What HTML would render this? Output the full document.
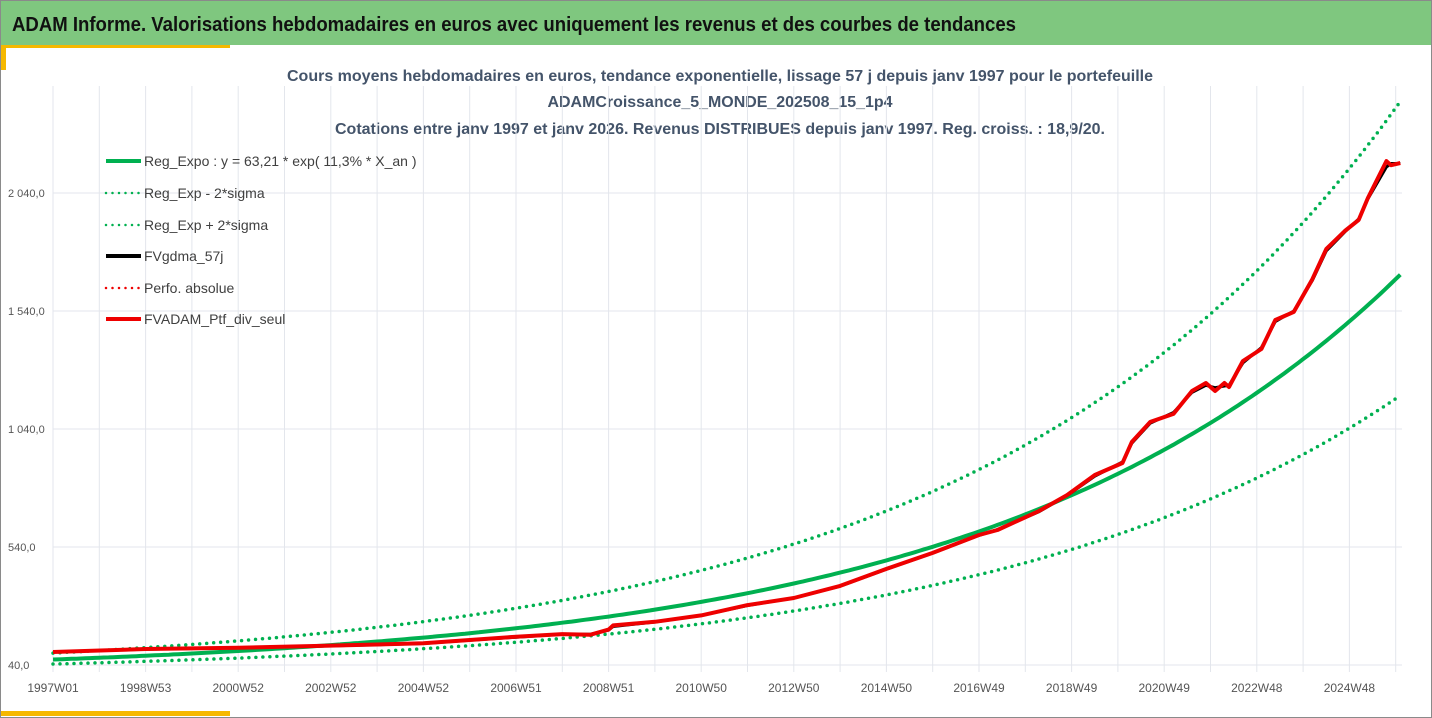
<!DOCTYPE html>
<html><head><meta charset="utf-8"><style>
html,body{margin:0;padding:0;background:#fff;}
svg{display:block;font-family:"Liberation Sans",sans-serif;}
</style></head><body>
<svg id="chart" width="1432" height="718" viewBox="0 0 1432 718">
<rect x="0" y="0" width="1432" height="718" fill="#fff"/>
<rect x="0.5" y="0.5" width="1431" height="717" fill="none" stroke="#8a8a8a"/>
<rect x="1" y="1" width="1430" height="44" fill="#7fc77f"/>
<text x="12" y="31" font-size="20" font-weight="bold" fill="#111" textLength="1004" lengthAdjust="spacingAndGlyphs">ADAM Informe. Valorisations hebdomadaires en euros avec uniquement les revenus et des courbes de tendances</text>
<rect x="1" y="45" width="229" height="3" fill="#f5b800"/>
<rect x="1" y="45" width="5" height="25" fill="#f5b800"/>
<rect x="1" y="711" width="229" height="5" fill="#f5b800"/>
<g fill="#44546a" font-weight="bold" font-size="16" text-anchor="middle">
<text x="720" y="81" textLength="866" lengthAdjust="spacingAndGlyphs">Cours moyens hebdomadaires  en euros, tendance exponentielle, lissage 57 j depuis janv 1997 pour le portefeuille</text>
<text x="720" y="107" textLength="345" lengthAdjust="spacingAndGlyphs">ADAMCroissance_5_MONDE_202508_15_1p4</text>
<text x="720" y="134" textLength="770" lengthAdjust="spacingAndGlyphs">Cotations entre janv 1997 et janv 2026. Revenus DISTRIBUES depuis janv 1997. Reg. croiss. : 18,9/20.</text>
</g>
<g id="grid"></g>
<g id="axes"></g>
<g id="series"></g>
<g id="legend"></g>
</svg>
<script>
// ---- data ----
const yTicks = [40, 540, 1040, 1540, 2040];
const yTickLabels = ["40,0", "540,0", "1 040,0", "1 540,0", "2 040,0"];
const xTickYears = [1997, 1999, 2001, 2003, 2005, 2007, 2009, 2011, 2013, 2015, 2017, 2019, 2021, 2023, 2025];
const xTickLabels = ["1997W01","1998W53","2000W52","2002W52","2004W52","2006W51","2008W51","2010W50","2012W50","2014W50","2016W49","2018W49","2020W49","2022W48","2024W48"];
const regA = 63.21;
const regRate = 0.113;
const regSigma2 = 0.36;
const regYears = [1997,1998,1999,2000,2001,2002,2003,2004,2005,2006,2007,2008,2009,2010,2011,2012,2013,2014,2015,2016,2017,2018,2019,2020,2021,2022,2023,2024,2025,2026.1];
const ptfYears = [1997,1999,2001,2003,2005,2006,2007,2008,2008.6,2009,2009.1,2010,2011,2012,2013,2014,2015,2016,2017,2017.4,2018.3,2018.9,2019.5,2020.1,2020.3,2020.7,2021.2,2021.6,2021.9,2022.1,2022.3,2022.4,2022.7,2023.1,2023.4,2023.8,2024.2,2024.5,2024.9,2025.2,2025.4,2025.8,2025.9,2026.1];
const ptfValues = [95,108,113,122,132,146,160,171,168,190,208,223,250,294,324,375,447,515,591,612,693,760,845,896,985,1070,1104,1201,1235,1201,1235,1218,1328,1379,1502,1536,1675,1803,1879,1926,2019,2175,2158,2167];
const smoothValues = [95,107,113,121,131,145,158,170,170,188,203,222,250,292,324,374,446,514,589,614,690,758,840,900,980,1065,1110,1195,1225,1215,1222,1225,1320,1385,1495,1540,1670,1795,1875,1930,2015,2150,2165,2165];

// ---- axes ----
const X0 = 53, PX_PER_YEAR = 46.3, YBASE = 665, PX_PER_UNIT = 118 / 500;
const xs = yr => X0 + (yr - 1997) * PX_PER_YEAR;
const ys = v => YBASE - (v - 40) * PX_PER_UNIT;
const NS = "http://www.w3.org/2000/svg";
function mk(tag, attrs, parent){const e=document.createElementNS(NS,tag);for(const k in attrs)e.setAttribute(k,attrs[k]);parent.appendChild(e);return e;}
const grid=document.getElementById('grid'), axes=document.getElementById('axes'), series=document.getElementById('series'), legend=document.getElementById('legend');

for(let y=1997;y<=2026;y++){
  const l=mk('line',{x1:xs(y),x2:xs(y),y1:86,y2:672,stroke:'#e3e6ec','stroke-width':1},grid);
  
  
}
yTicks.forEach((v,i)=>{
  const l=mk('line',{x1:53,x2:1402,y1:ys(v),y2:ys(v),stroke:'#e3e6ec','stroke-width':1},grid);
  
  
  const t=mk('text',{x:8,y:ys(v)+4,'font-size':11,fill:'#555'},axes);
  t.textContent=yTickLabels[i];
  
  
});
xTickYears.forEach((yr,i)=>{
  const t=mk('text',{x:xs(yr),y:692,'font-size':12,fill:'#555','text-anchor':'middle'},axes);
  t.textContent=xTickLabels[i];
  
  
});

// ---- series ----
function pathFrom(xv, yv){return xv.map((x,i)=>(i?'L':'M')+xs(x).toFixed(1)+','+ys(yv[i]).toFixed(1)).join(' ');}
function regPath(shift){
  const pts=[];
  for(let i=0;i<regYears.length-1;i++){
    for(let k=0;k<10;k++){const yr=regYears[i]+(regYears[i+1]-regYears[i])*k/10;pts.push(yr);}
  }
  pts.push(regYears[regYears.length-1]);
  return pts.map((yr,i)=>(i?'L':'M')+xs(yr).toFixed(1)+','+ys(regA*Math.exp(regRate*(yr-1997)+shift)).toFixed(1)).join(' ');
}
let p;
p=mk('path',{d:regPath(regSigma2),fill:'none',stroke:'#00b050','stroke-width':3.5,'stroke-dasharray':'0 7','stroke-linecap':'round'},series);


p=mk('path',{d:regPath(-regSigma2),fill:'none',stroke:'#00b050','stroke-width':3.5,'stroke-dasharray':'0 7','stroke-linecap':'round'},series);


p=mk('path',{d:regPath(0),fill:'none',stroke:'#00b050','stroke-width':4},series);


p=mk('path',{d:pathFrom(ptfYears,smoothValues),fill:'none',stroke:'#000','stroke-width':3,'stroke-linejoin':'round'},series);


p=mk('path',{d:pathFrom(ptfYears,ptfValues),fill:'none',stroke:'#ee0000','stroke-width':4,'stroke-linejoin':'round'},series);



// ---- legend ----
const legItems=[
 ['Reg_Expo : y = 63,21 * exp( 11,3% *  X_an )','#00b050',false,'legend-reg-expo'],
 ['Reg_Exp - 2*sigma','#00b050',true,'legend-reg-minus'],
 ['Reg_Exp + 2*sigma','#00b050',true,'legend-reg-plus'],
 ['FVgdma_57j','#000',false,'legend-fvgdma'],
 ['Perfo. absolue','#ee0000',true,'legend-perfo'],
 ['FVADAM_Ptf_div_seul','#ee0000',false,'legend-fvadam']
];
const legY=[161,193,225,256,288,319];
legItems.forEach((it,i)=>{
  const g=mk('g',{},legend);
  
  
  mk('line',it[2]?{x1:106,x2:141,y1:legY[i],y2:legY[i],stroke:it[1],'stroke-width':2.5,'stroke-dasharray':'0 6.5','stroke-linecap':'round'}:{x1:106,x2:141,y1:legY[i],y2:legY[i],stroke:it[1],'stroke-width':4},g);
  const t=mk('text',{x:144,y:legY[i]+5,'font-size':14,fill:'#404040'},g);
  t.textContent=it[0];
});
</script>
</body></html>
